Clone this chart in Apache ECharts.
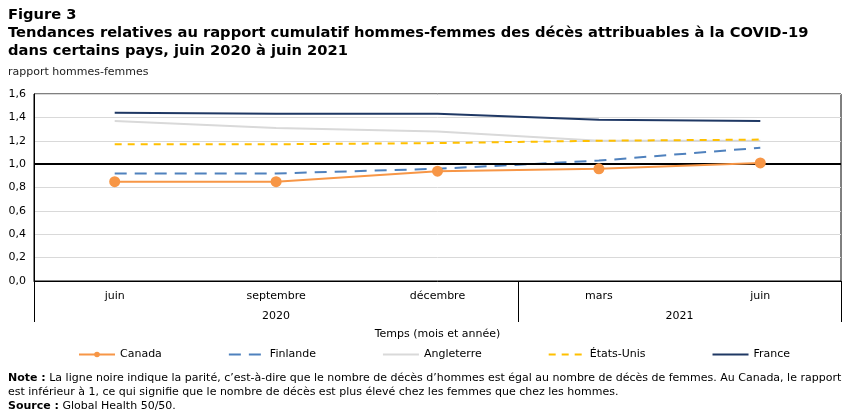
<!DOCTYPE html>
<html>
<head>
<meta charset="utf-8">
<script src="https://cdn.jsdelivr.net/npm/echarts@6/dist/echarts.min.js"></script>
<style>
  html, body { margin: 0; padding: 0; background: #fff; }
  #chart { width: 851px; height: 416px; }
</style>
</head>
<body>
<div id="chart"></div>
<script>
const months = ['juin', 'septembre', 'décembre', 'mars', 'juin']
const years = ['2020', '2021']
const yTicks = [0, 0.2, 0.4, 0.6, 0.8, 1.0, 1.2, 1.4, 1.6]

const canada = [0.85, 0.85, 0.94, 0.96, 1.01]
const finlande = [0.92, 0.92, 0.96, 1.03, 1.14]
const angleterre = [1.37, 1.31, 1.28, 1.20, 1.20]
const etatsUnis = [1.17, 1.17, 1.18, 1.20, 1.21]
const france = [1.44, 1.43, 1.43, 1.38, 1.37]
const parity = 1.0

const font = '"DejaVu Sans", Verdana, sans-serif'

const chart = echarts.init(document.getElementById('chart'))

function lineSeries(name, data, color, type, extra) {
  return Object.assign({
    name,
    type: 'line',
    data,
    symbol: 'none',
    lineStyle: { color, width: 2, type },
    itemStyle: { color },
    z: 3
  }, extra || {})
}

// legend entries without a marker, except Canada
const noDot = { opacity: 0 }

chart.setOption({
  animation: false,
  title: [
    {
      text: 'Figure 3\nTendances relatives au rapport cumulatif hommes-femmes des décès attribuables à la COVID-19\ndans certains pays, juin 2020 à juin 2021',
      left: 8, top: 6, padding: 0,
      textStyle: { fontFamily: font, fontSize: 14.7, fontWeight: 'bold', color: '#000', lineHeight: 18 }
    },
    {
      text: 'rapport hommes-femmes',
      left: 8, top: 67, padding: 0,
      textStyle: { fontFamily: font, fontSize: 11, fontWeight: 'normal', color: '#222' }
    },
    {
      text: '{b|Note :} La ligne noire indique la parité, c’est-à-dire que le nombre de décès d’hommes est égal au nombre de décès de femmes. Au Canada, le rapport\nest inférieur à 1, ce qui signifie que le nombre de décès est plus élevé chez les femmes que chez les hommes.\n{b|Source :} Global Health 50/50.',
      left: 8, top: 371, padding: 0,
      textStyle: {
        fontFamily: font, fontSize: 11, fontWeight: 'normal', color: '#000', lineHeight: 14,
        rich: { b: { fontFamily: font, fontSize: 11, fontWeight: 'bold', color: '#000', lineHeight: 14 } }
      }
    }
  ],
  legend: {
    left: 78, top: 349, padding: 0,
    itemWidth: 36, itemHeight: 7, itemGap: 66,
    textStyle: { fontFamily: font, fontSize: 11, color: '#000' },
    data: [
      { name: 'Canada' },
      { name: 'Finlande', itemStyle: noDot },
      { name: 'Angleterre', itemStyle: noDot },
      { name: 'États-Unis', itemStyle: noDot },
      { name: 'France', itemStyle: noDot }
    ]
  },
  grid: {
    left: 34, right: 10, top: 94, bottom: 135,
    show: true, borderColor: '#000', borderWidth: 1
  },
  xAxis: [
    {
      type: 'category',
      data: months,
      boundaryGap: true,
      axisLine: { lineStyle: { color: '#000', width: 1 } },
      axisTick: {
        show: true, length: 41,
        interval: (index) => index === 0 || index === 3,
        lineStyle: { color: '#000', width: 1 }
      },
      axisLabel: { fontFamily: font, fontSize: 11, color: '#000', margin: 10, interval: 0 },
      name: 'Temps (mois et année)',
      nameLocation: 'middle',
      nameGap: 48,
      nameTextStyle: { fontFamily: font, fontSize: 11, color: '#000' }
    },
    {
      type: 'value',
      position: 'bottom',
      min: 0, max: 5, interval: 0.5,
      axisLine: { show: false },
      axisTick: { show: false },
      splitLine: { show: false },
      axisLabel: {
        fontFamily: font, fontSize: 11, color: '#000', margin: 30,
        formatter: (v) => (v === 1.5 ? years[0] : v === 4 ? years[1] : '')
      }
    }
  ],
  yAxis: {
    type: 'value',
    min: yTicks[0], max: yTicks[yTicks.length - 1], interval: 0.2,
    axisLine: { show: true, lineStyle: { color: '#000', width: 1 } },
    axisTick: { show: false },
    axisLabel: {
      fontFamily: font, fontSize: 11, color: '#000', margin: 8,
      formatter: (v) => v.toFixed(1).replace('.', ',')
    },
    splitLine: { lineStyle: { color: '#d9d9d9', width: 1 } }
  },
  series: [
    lineSeries('Canada', canada, '#f79646', 'solid', {
      symbol: 'circle', symbolSize: 11, z: 5
    }),
    lineSeries('Finlande', finlande, '#4f81bd', [12, 8]),
    lineSeries('Angleterre', angleterre, '#d9d9d9', 'solid', {
      z: 2,
      markLine: {
        silent: true,
        symbol: 'none',
        label: { show: false },
        lineStyle: { color: '#000', width: 2, type: 'solid' },
        data: [{ yAxis: parity }]
      }
    }),
    lineSeries('États-Unis', etatsUnis, '#ffc000', [7, 6]),
    lineSeries('France', france, '#1f3864', 'solid')
  ]
})
</script>
</body>
</html>
